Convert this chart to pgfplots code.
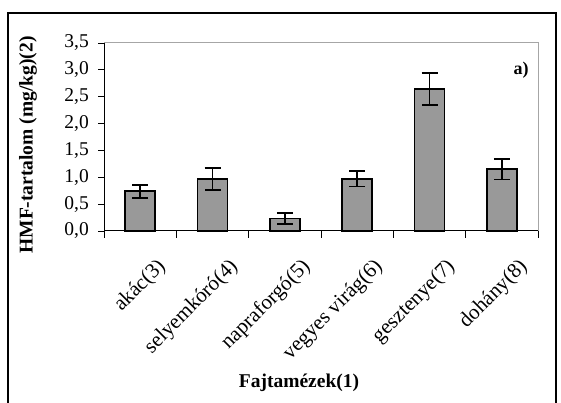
\documentclass[border=0pt]{standalone}
\usepackage{pgfplots}
\pgfplotsset{compat=1.18}
\usepackage{fontspec}
\setmainfont{Liberation Serif}
\definecolor{barfill}{RGB}{153,153,153}
\begin{document}
\begin{tikzpicture}[x=1pt,y=1pt]
\useasboundingbox (0,0) rectangle (561,403);
\draw[line width=1.3pt] (8,-2) -- (8,390) -- (556,390) -- (556,-2);
\begin{axis}[
  at={(104pt,172pt)}, anchor=south west,
  scale only axis, width=434pt, height=188pt,
  xmin=-0.5, xmax=5.5, ymin=0, ymax=3.5,
  axis x line*=bottom, axis y line*=left,
  axis line style={black, line width=1pt},
  xtick={0,1,2,3,4,5},
  xticklabels={akác(3),selyemkóró(4),napraforgó(5),vegyes virág(6),gesztenye(7),dohány(8)},
  minor xtick={-0.5,0.5,1.5,2.5,3.5,4.5,5.5},
  ytick={0,0.5,1,1.5,2,2.5,3,3.5},
  yticklabels={{0,0},{0,5},{1,0},{1,5},{2,0},{2,5},{3,0},{3,5}},
  tick align=outside,
  major tick length=6pt, minor tick length=7pt,
  x tick style={draw=none},
  minor x tick style={draw=black, line width=0.8pt},
  y tick style={black, line width=0.8pt},
  /pgf/number format/assume math mode=true,
  yticklabel style={font=\fontsize{19.5}{19.5}\selectfont, inner sep=0pt, xshift=-9pt},
  xticklabel style={font=\fontsize{21}{21}\selectfont, rotate=45, anchor=north east, inner sep=1pt, xshift=-2pt, yshift=-24pt},
  clip=false,
]
\addplot[ybar, bar width=30pt, fill=barfill, draw=black, line width=1.6pt,
  error bars/.cd, y dir=both, y explicit,
  error bar style={line width=1.8pt, black},
  error mark options={rotate=90, mark size=8pt, line width=1.8pt, black}]
  table[x=x, y=y, y error=e] {
x y e
0 0.74 0.12
1 0.97 0.20
2 0.23 0.10
3 0.97 0.14
4 2.64 0.30
5 1.15 0.19
};
\draw[gray!70, line width=1pt] (rel axis cs:0,1) -- (rel axis cs:1,1) -- (rel axis cs:1,0);
\end{axis}
\node[rotate=90, font=\bfseries\fontsize{19.5}{19.5}\selectfont] at (28,258) {HMF-tartalom (mg/kg)(2)};
\node[font=\bfseries\fontsize{19.5}{19.5}\selectfont] at (299,20) {Fajtamézek(1)};
\node[font=\bfseries\fontsize{18}{18}\selectfont] at (521,333) {a)};
\end{tikzpicture}
\end{document}
